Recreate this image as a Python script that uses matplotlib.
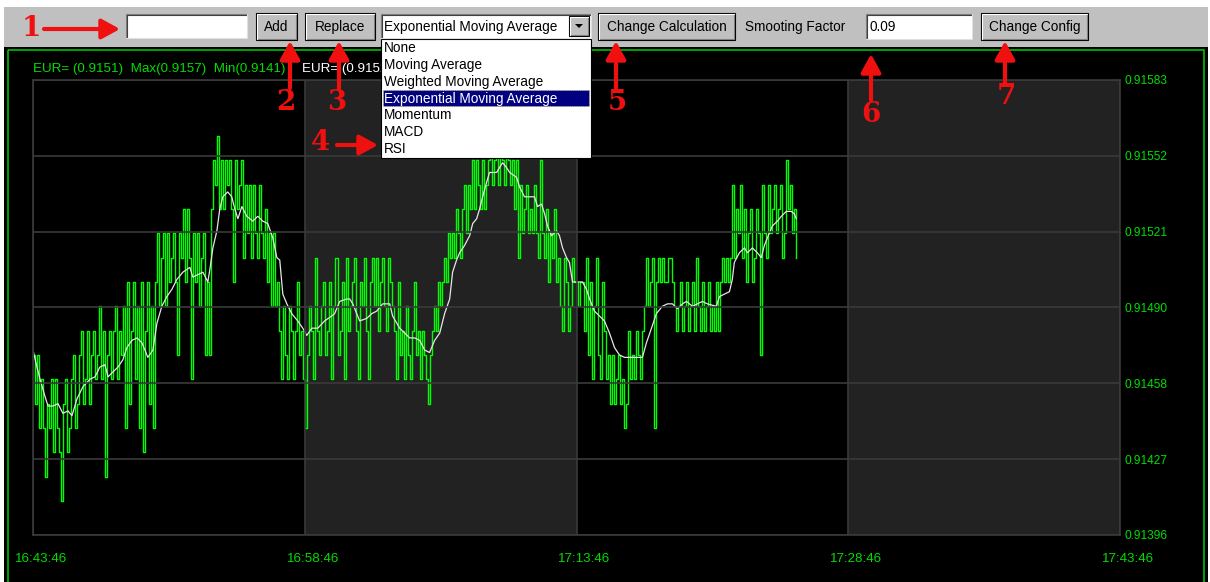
import numpy as np
import matplotlib
matplotlib.use("Agg")
import matplotlib.pyplot as plt
from matplotlib.patches import Rectangle, Polygon
from matplotlib.transforms import ScaledTranslation

plt.rcParams['font.family'] = ['Liberation Sans', 'DejaVu Sans']

# ------------------------------
# data: EUR= ticks (pips above 0.9100), one tick every few seconds
# ------------------------------
tick_pips = [
    47, 45, 47, 44, 46, 44, 42, 45, 44, 46,
    43, 46, 44, 43, 41, 45, 46, 43, 44, 46,
    47, 44, 45, 47, 48, 45, 46, 48, 45, 47,
    48, 46, 47, 49, 46, 48, 42, 47, 48, 46,
    48, 49, 46, 48, 47, 49, 44, 50, 45, 48,
    50, 46, 49, 44, 50, 43, 48, 50, 45, 49,
    44, 50, 52, 49, 51, 52, 49, 52, 50, 51,
    52, 50, 47, 52, 51, 53, 50, 53, 51, 46,
    52, 50, 52, 49, 51, 52, 47, 50, 47, 53,
    55, 54, 56, 53, 55, 53, 55, 54, 55, 53,
    50, 55, 53, 54, 55, 51, 54, 52, 54, 51,
    54, 52, 51, 54, 52, 51, 53, 50, 52, 49,
    52, 49, 50, 48, 46, 49, 47, 46, 49, 48,
    46, 48, 50, 47, 48, 46, 44, 47, 49, 48,
    46, 51, 48, 47, 49, 50, 47, 48, 50, 46,
    49, 51, 47, 48, 50, 46, 51, 48, 49, 50,
    51, 48, 46, 50, 49, 51, 48, 46, 50, 51,
    49, 51, 48, 50, 51, 49, 48, 51, 50, 49,
    48, 46, 50, 47, 48, 46, 49, 47, 46, 48,
    50, 47, 48, 46, 48, 47, 46, 45, 47, 48,
    49, 48, 50, 49, 50, 51, 50, 52, 51, 52,
    51, 53, 52, 51, 53, 54, 52, 54, 53, 55,
    53, 55, 54, 53, 55, 53, 54, 55, 56, 54,
    55, 57, 54, 56, 55, 54, 56, 55, 54, 55,
    53, 55, 51, 54, 52, 53, 54, 52, 53, 52,
    54, 52, 51, 55, 52, 51, 53, 50, 52, 51,
    53, 50, 51, 49, 48, 51, 50, 48, 49, 51,
    50, 50, 49, 50, 50, 48, 51, 47, 50, 46,
    49, 51, 47, 46, 50, 48, 46, 47, 45, 47,
    45, 46, 47, 45, 46, 44, 45, 48, 46, 47,
    46, 48, 47, 46, 48, 49, 51, 49, 50, 51,
    44, 50, 51, 50, 51, 50, 50, 51, 51, 50,
    49, 48, 49, 50, 48, 49, 50, 48, 49, 50,
    48, 51, 49, 48, 50, 48, 49, 50, 48, 49,
    48, 50, 48, 50, 51, 50, 51, 50, 51, 54,
    51, 53, 52, 54, 51, 53, 50, 52, 53, 50,
    51, 53, 52, 47, 54, 52, 51, 54, 52, 53,
    54, 52, 53, 54, 51, 52, 55, 53, 54, 52, 53, 51,
]
tick_end_min = 42.13  # last tick, minutes after 16:43:46

# exponential moving average (smoothing factor 0.09), minutes / pips
ema_t = [0, 0.22, 0.39, 0.66, 0.83, 1.10, 1.38, 1.65, 1.93, 2.15,
         2.43, 2.76, 3.14, 3.42, 3.69, 3.97, 4.14, 4.41, 4.69, 4.96,
         5.18, 5.46, 5.74, 6.01, 6.18, 6.34, 6.62, 6.84, 7.11, 7.39,
         7.67, 7.94, 8.27, 8.66, 8.82, 9.10, 9.38, 9.65, 9.76, 9.93,
         10.15, 10.31, 10.48, 10.75, 10.97, 11.14, 11.31, 11.53, 11.80, 12.13,
         12.41, 12.68, 12.96, 13.24, 13.46, 13.62, 13.79, 14.01, 14.28, 14.61,
         14.89, 15.11, 15.39, 15.72, 16.10, 16.49, 16.65, 16.93, 17.32, 17.48,
         17.65, 17.87, 18.03, 18.42, 18.70, 18.97, 19.30, 19.69, 19.85, 20.24,
         20.52, 20.79, 21.07, 21.34, 21.62, 21.89, 22.17, 22.45, 22.72, 23.00,
         23.16, 23.38, 23.55, 23.82, 24.10, 24.27, 24.49, 24.65, 24.82, 25.04,
         25.20, 25.37, 25.59, 25.75, 25.92, 26.14, 26.31, 26.69, 26.86, 27.13,
         27.41, 27.68, 27.85, 28.07, 28.24, 28.40, 28.62, 28.90, 29.06, 29.23,
         29.45, 29.61, 29.78, 30.33, 30.55, 30.72, 30.99, 31.27, 31.54, 31.82,
         32.10, 32.37, 32.65, 33.20, 33.64, 33.86, 34.14, 34.41, 34.74, 35.02,
         35.29, 35.57, 35.85, 36.07, 36.40, 36.67, 36.95, 37.22, 37.72, 37.89,
         38.16, 38.44, 38.60, 38.71, 38.99, 39.27, 39.43, 39.71, 39.98, 40.20,
         40.37, 40.53, 40.81, 41.09, 41.31, 41.58, 41.86, 42.02, 42.13]
ema_pips = [47.2, 46.5, 46.0, 45.3, 44.9, 44.9, 45.0, 44.6, 44.7, 44.5,
            45.2, 45.7, 46.0, 46.1, 46.5, 46.6, 46.1, 46.3, 46.5, 46.8,
            47.3, 47.6, 47.7, 47.5, 47.2, 46.9, 47.2, 48.3, 49.0, 49.4,
            49.7, 50.1, 50.4, 50.6, 50.2, 50.3, 50.4, 50.0, 50.5, 51.4,
            52.1, 53.0, 53.5, 53.7, 53.5, 53.0, 52.6, 53.1, 52.7, 52.5,
            52.7, 52.5, 52.4, 51.8, 51.0, 50.9, 49.5, 49.1, 48.7, 48.4,
            48.1, 47.8, 48.1, 48.1, 48.4, 48.6, 48.7, 49.2, 49.3, 49.3,
            49.1, 48.7, 48.4, 48.5, 48.7, 48.8, 49.1, 49.1, 48.6, 48.1,
            47.9, 47.7, 47.7, 47.6, 47.2, 47.1, 47.6, 47.9, 48.7, 49.3,
            50.4, 50.9, 51.2, 51.5, 51.9, 52.4, 52.6, 53.0, 53.5, 54.1,
            54.5, 54.5, 54.5, 54.7, 54.9, 54.7, 54.5, 54.3, 53.9, 53.5,
            53.5, 53.5, 53.1, 53.2, 52.8, 52.3, 51.9, 52.1, 51.9, 51.4,
            51.0, 50.8, 50.0, 50.0, 49.7, 49.3, 48.8, 48.6, 48.4, 47.9,
            47.3, 47.0, 46.9, 46.9, 46.9, 47.5, 48.1, 48.7, 49.0, 49.1,
            49.1, 48.9, 49.1, 49.2, 49.0, 49.1, 49.2, 49.1, 49.0, 49.4,
            49.5, 49.6, 50.1, 50.8, 51.2, 51.4, 51.2, 51.4, 51.2, 51.0,
            51.5, 51.8, 52.3, 52.5, 52.7, 52.9, 52.9, 52.8, 52.6]

y_labels = ['0.91396', '0.91427', '0.91458', '0.91490', '0.91521', '0.91552', '0.91583']
x_minutes = [0, 15, 30, 45, 60]
x_labels = ['16:43:46', '16:58:46', '17:13:46', '17:28:46', '17:43:46']
calc_options = ['None', 'Moving Average', 'Weighted Moving Average',
                'Exponential Moving Average', 'Momentum', 'MACD', 'RSI']
selected = 'Exponential Moving Average'

tick_price = 0.91 + np.array(tick_pips) / 10000
tick_t = np.linspace(0, tick_end_min, len(tick_pips))
ema_price = 0.91 + np.array(ema_pips) / 10000

GREEN_TXT = '#00dd00'
FACE = '#c0c0c0'
RED = '#f01010'
UI_FS = 9.8

# ------------------------------
# figure + background layer (pixel coords, y down)
# ------------------------------
fig = plt.figure(figsize=(12.1, 5.82), dpi=100)
W, H = 1210, 582

bg = fig.add_axes([0, 0, 1, 1], zorder=0)
bg.set_xlim(0, W)
bg.set_ylim(H, 0)
bg.axis('off')
bg.add_patch(Rectangle((4, 7), 1204, 40, fc=FACE, ec='none'))
bg.add_patch(Rectangle((4, 47), 1204, 540, fc='black', ec='none'))
bg.add_patch(Rectangle((8, 50), 1196, 540, fc='none', ec='#00c000', lw=1.2))
bg.text(33, 69, 'EUR= (0.9151)  Max(0.9157)  Min(0.9141)', color=GREEN_TXT,
        fontsize=9.6, va='center')
bg.text(302, 69, 'EUR= (0.9152)', color='white', fontsize=9.6, va='center')

# ------------------------------
# chart
# ------------------------------
ax = fig.add_axes([33 / W, 1 - 535 / H, (1120 - 33) / W, (535 - 80) / H], zorder=1)
ax.set_facecolor('black')
ax.set_xlim(0, 60)
ax.set_ylim(0.91396, 0.91583)
ax.axvspan(15, 30, color='#222222', lw=0)
ax.axvspan(45, 60, color='#222222', lw=0)

ax.plot(tick_t, tick_price, color='#00ff00', lw=1.0, drawstyle='steps-post')
ax.plot(ema_t, ema_price, color='#e6e6e6', lw=0.9)

ax.set_yticks(np.linspace(0.91396, 0.91583, len(y_labels)))
ax.set_yticklabels(y_labels)
ax.set_xticks(x_minutes)
ax.set_xticklabels(x_labels)
ax.yaxis.tick_right()
ax.tick_params(length=0, colors=GREEN_TXT, labelsize=8.6)
ax.tick_params(axis='x', pad=13, labelsize=9.6)
ax.tick_params(axis='y', pad=3)
ax.grid(True, color='#3a3a3a', lw=1.2)
ax.set_axisbelow(False)
for s in ax.spines.values():
    s.set_color('#3a3a3a')
    s.set_linewidth(1.2)
for lab in ax.get_xticklabels():
    lab.set_transform(lab.get_transform() + ScaledTranslation(0.08, 0, fig.dpi_scale_trans))

# ------------------------------
# toolbar + annotations overlay
# ------------------------------
ui = fig.add_axes([0, 0, 1, 1], zorder=2)
ui.set_xlim(0, W)
ui.set_ylim(H, 0)
ui.axis('off')
ui.patch.set_visible(False)


def button(x0, y0, x1, y1, label):
    ui.add_patch(Rectangle((x0, y0), x1 - x0, y1 - y0, fc=FACE, ec='black', lw=0.8))
    ui.plot([x0 + 1, x0 + 1, x1 - 1.5], [y1 - 1.5, y0 + 1, y0 + 1], color='white', lw=0.8)
    ui.plot([x0 + 1.5, x1 - 1.5, x1 - 1.5], [y1 - 1.5, y1 - 1.5, y0 + 1.5], color='#808080', lw=0.8)
    ui.text((x0 + x1) / 2, (y0 + y1) / 2 + 0.5, label, ha='center', va='center', fontsize=UI_FS)


def textbox(x0, y0, x1, y1, label=''):
    ui.add_patch(Rectangle((x0, y0), x1 - x0, y1 - y0, fc='white', ec='none'))
    ui.plot([x0, x0, x1], [y1, y0, y0], color='#808080', lw=0.8)
    ui.plot([x0 + 1, x0 + 1, x1 - 1], [y1 - 1, y0 + 1, y0 + 1], color='#404040', lw=0.8)
    ui.plot([x0, x1, x1], [y1, y1, y0], color='#e0e0e0', lw=0.8)
    if label:
        ui.text(x0 + 3, (y0 + y1) / 2 + 0.5, label, va='center', fontsize=UI_FS)


textbox(126, 14, 247, 38)
button(256, 13, 297, 40, 'Add')
button(305, 13, 375, 40, 'Replace')
textbox(381, 14, 591, 38, selected)
button(569, 16, 589, 36, '')
ui.add_patch(Polygon([[575, 24], [583, 24], [579, 28]], closed=True, fc='black', ec='none'))
button(598, 13, 735, 40, 'Change Calculation')
ui.text(745, 27, 'Smooting Factor', va='center', fontsize=UI_FS)
textbox(866, 14, 972, 39, '0.09')
button(981, 13, 1088, 40, 'Change Config')

# dropdown list
ui.add_patch(Rectangle((381, 39), 210, 119, fc='white', ec='black', lw=0.8))
item_y0 = 48
for i, opt in enumerate(calc_options):
    yy = item_y0 + i * 16.7
    col = 'black'
    if opt == selected:
        ui.add_patch(Rectangle((383, yy - 8), 206, 16, fc='#000080', ec='#d0c060',
                               lw=0.6, ls=':'))
        col = 'white'
    ui.text(384, yy + 0.5, opt, va='center', fontsize=UI_FS, color=col)

# red call-out numbers and arrows
arrow_kw = dict(arrowstyle='-|>,head_length=0.55,head_width=0.3', color=RED,
                lw=3, mutation_scale=20, shrinkA=0, shrinkB=0)
callouts = [
    ('1', (31, 28), (44, 29), (120, 29)),
    ('2', (286, 102), (290, 88), (290, 41)),
    ('3', (337, 102), (339, 88), (339, 41)),
    ('4', (320, 143), (337, 145), (378, 145)),
    ('5', (617, 102), (616, 88), (616, 41)),
    ('6', (871, 115), (871, 100), (871, 54)),
    ('7', (1006, 97), (1005, 84), (1005, 41)),
]
for num, pos, start, end in callouts:
    ui.text(pos[0], pos[1], num, color=RED, fontsize=20, fontweight='bold',
            family='DejaVu Serif', ha='center', va='center')
    ui.annotate('', xy=end, xytext=start, arrowprops=arrow_kw)

fig.savefig('out.png', dpi=100, facecolor='white')
